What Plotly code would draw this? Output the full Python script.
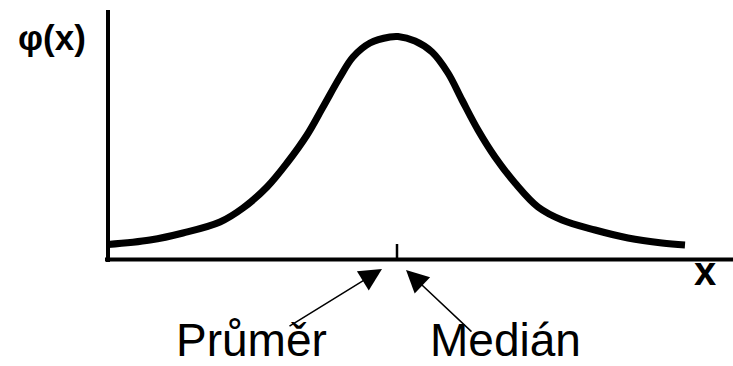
import plotly.graph_objects as go

curve_x = [0, 42, 75, 112, 135, 159, 179, 199, 215, 232, 245, 262, 282, 290,
           307, 324, 340, 354, 370, 387, 407, 430, 454, 487, 520, 554, 577]
curve_phi = [15, 19.5, 26.5, 37.5, 51.5, 72.5, 96.5, 124.5, 152.5, 182.5, 202.5, 216.5, 222.5, 223,
             218.5, 207.5, 186.5, 159.5, 129.5, 102.5, 76.5, 52.5, 39.5, 29.5, 21.5, 16.5, 14.5]
median_x = 289
x_end = 625
phi_top = 249.5

labels = ["Průměr", "Medián"]

FONT = "Liberation Sans, Arial, sans-serif"

fig = go.Figure()
fig.add_trace(go.Scatter(
    x=curve_x, y=curve_phi, mode="lines",
    line=dict(color="black", width=7, shape="spline", smoothing=1),
    hoverinfo="skip", showlegend=False,
))

# axes drawn by hand, the way the sketch has them
fig.add_shape(type="line", xref="x", yref="y", x0=0, x1=0, y0=-2.5, y1=phi_top,
              line=dict(color="black", width=4))
fig.add_shape(type="line", xref="x", yref="y", x0=-3, x1=x_end, y0=0, y1=0,
              line=dict(color="black", width=4))
fig.add_shape(type="line", xref="x", yref="y", x0=median_x, x1=median_x, y0=0, y1=15.5,
              line=dict(color="black", width=2.5))

# arrows to the centre
arrow = dict(showarrow=True, text="", axref="x", ayref="y", xref="x", yref="y",
             arrowhead=2, arrowsize=3, arrowwidth=1.5, arrowcolor="black")
fig.add_annotation(x=median_x - 15, y=-9.5, ax=median_x - 109, ay=-67.5, **arrow)
fig.add_annotation(x=median_x + 9, y=-10.5, ax=median_x + 76, ay=-73.5, **arrow)

fig.add_annotation(x=143.5, y=-80.6, text=labels[0], showarrow=False, borderpad=0,
                   font=dict(family=FONT, size=46, color="black"))
fig.add_annotation(x=397, y=-80.6, text=labels[1], showarrow=False, borderpad=0,
                   font=dict(family=FONT, size=46, color="black"))
fig.add_annotation(x=-56.5, y=221.6, text="<b>φ(x)</b>", showarrow=False,
                   font=dict(family=FONT, size=35, color="black"))
fig.add_annotation(x=596.5, y=-11.6, text="<b>x</b>", showarrow=False,
                   font=dict(family=FONT, size=40, color="black"))

fig.update_xaxes(range=[-108, 625], visible=False)
fig.update_yaxes(range=[-106.5, 259.5], visible=False)
fig.update_layout(
    width=733, height=366,
    margin=dict(l=0, r=0, t=0, b=0),
    paper_bgcolor="white", plot_bgcolor="white",
)

# drop the browser's default body margin so the figure sits in the corner
fig.write_html("out.html", config={"displayModeBar": False},
               post_script="document.body.style.margin='0px';")
